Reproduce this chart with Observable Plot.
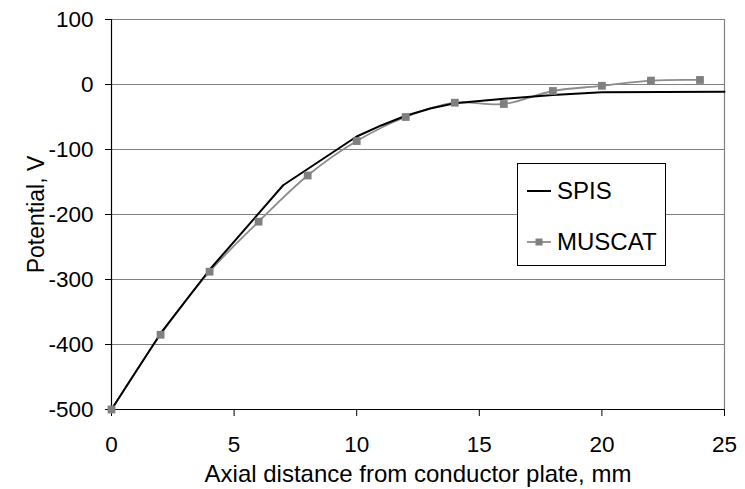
<!DOCTYPE html>
<html>
<head>
<meta charset="utf-8">
<script src="https://cdn.jsdelivr.net/npm/d3@7"></script>
<script src="https://cdn.jsdelivr.net/npm/@observablehq/plot@0.6"></script>
<style>
  html, body { margin: 0; padding: 0; background: #fff; }
  #wrap { position: relative; width: 745px; height: 489px; font-family: "Liberation Sans", Arial, sans-serif; }
  #legend { position: absolute; left: 517px; top: 163px; width: 147px; height: 101px; border: 1px solid #000; background: #fff; }
  .entry { position: absolute; left: 9px; display: flex; align-items: center; font-size: 24px; color: #000; }
  .entry svg { margin-right: 6px; }
</style>
</head>
<body>
<div id="wrap"></div>
<script>
// Data
const spisX = [0, 2, 4, 7, 10, 11, 12, 13, 14, 16, 18, 20, 25];
const spisY = [-500, -383, -285, -155, -80, -63, -48, -37, -29, -22, -16, -12, -11];
const muscatX = [0, 2, 4, 6, 8, 10, 12, 14, 16, 18, 20, 22, 24];
const muscatY = [-500, -385, -288, -211, -140, -87, -50, -28, -30, -10, -2, 6, 7];
const xTicks = [0, 5, 10, 15, 20, 25];
const yTicks = [100, 0, -100, -200, -300, -400, -500];
const gridTicks = [100, 0, -100, -200, -300, -400];
const xTitle = "Axial distance from conductor plate, mm";
const yTitle = "Potential, V";
const seriesNames = ["SPIS", "MUSCAT"];

const spis = spisX.map((x, i) => ({x, y: spisY[i]}));
const muscat = muscatX.map((x, i) => ({x, y: muscatY[i]}));

const chart = Plot.plot({
  width: 745,
  height: 489,
  marginLeft: 111,
  marginRight: 21,
  marginTop: 19,
  marginBottom: 80,
  style: { fontFamily: "Liberation Sans, Arial, sans-serif", fontSize: "22.5px", color: "#000", background: "#fff" },
  x: { domain: [0, 25], label: null },
  y: { domain: [-500, 100], label: null },
  marks: [
    Plot.ruleY(gridTicks, { stroke: "#808080", strokeWidth: 1.2 }),
    Plot.ruleX([25], { stroke: "#808080", strokeWidth: 1.2 }),
    Plot.ruleX([0], { stroke: "#000", strokeWidth: 1.2 }),
    Plot.ruleY([-500], { stroke: "#000", strokeWidth: 1.2 }),
    Plot.axisX({ ticks: xTicks, tickSize: 7, tickPadding: 20, label: null, tickFormat: d => String(d) }),
    Plot.axisY({ ticks: yTicks, tickSize: 6, tickPadding: 12, label: null, tickFormat: d => String(d) }),
    Plot.text([xTitle], { frameAnchor: "bottom", textAnchor: "middle", lineAnchor: "middle", dy: 65, fontSize: 24, fill: "#000" }),
    Plot.text([yTitle], { frameAnchor: "left", textAnchor: "middle", lineAnchor: "middle", rotate: -90, dx: -75, fontSize: 23, fill: "#000" }),
    Plot.line(muscat, { x: "x", y: "y", stroke: "#8c8c8c", strokeWidth: 1.8, curve: "catmull-rom" }),
    Plot.line(spis, { x: "x", y: "y", stroke: "#000", strokeWidth: 2 }),
    Plot.dot(muscat, { x: "x", y: "y", symbol: "square", fill: "#808080", stroke: "none", r: 4.4 })
  ]
});

const wrap = document.getElementById("wrap");
wrap.appendChild(chart);

// Legend
const legend = document.createElement("div");
legend.id = "legend";
const e1 = document.createElement("div");
e1.className = "entry";
e1.style.top = "13px";
e1.innerHTML = '<svg width="24" height="10"><line x1="0" x2="24" y1="5" y2="5" stroke="#000" stroke-width="2"/></svg>' + seriesNames[0];
const e2 = document.createElement("div");
e2.className = "entry";
e2.style.top = "64px";
e2.innerHTML = '<svg width="24" height="10"><line x1="0" x2="24" y1="5" y2="5" stroke="#8c8c8c" stroke-width="1.8"/><rect x="8.5" y="1.5" width="7" height="7" fill="#808080"/></svg>' + seriesNames[1];
legend.appendChild(e1);
legend.appendChild(e2);
wrap.appendChild(legend);
</script>
</body>
</html>
